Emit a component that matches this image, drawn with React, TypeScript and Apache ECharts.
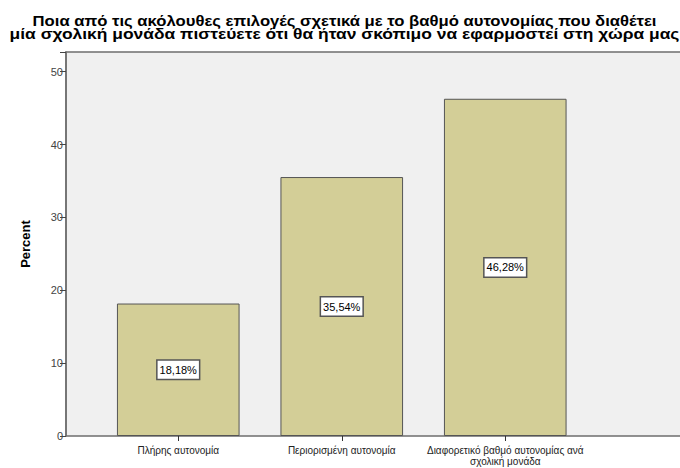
import React, { useEffect, useRef } from "react";
import * as echarts from "echarts";

const titleLines = [
  "Ποια από τις ακόλουθες επιλογές σχετικά με το βαθμό αυτονομίας που διαθέτει",
  "μία σχολική μονάδα πιστεύετε ότι θα ήταν σκόπιμο να εφαρμοστεί στη χώρα μας",
];
const categories = [
  "Πλήρης αυτονομία",
  "Περιορισμένη αυτονομία",
  "Διαφορετικό βαθμό αυτονομίας ανά σχολική μονάδα",
];
const percents = [18.18, 35.54, 46.28];
const yTicks = [0, 10, 20, 30, 40, 50];

const FONT = "'Liberation Sans', Arial, sans-serif";

export default function App() {
  const ref = useRef<HTMLDivElement>(null);
  useEffect(() => {
    if (!ref.current) return;
    const chart = echarts.init(ref.current, null, { renderer: "svg" });
    chart.setOption({
      animation: false,
      backgroundColor: "#ffffff",
      textStyle: { fontFamily: FONT },
      graphic: [
        {
          type: "rect",
          z: 0,
          silent: true,
          shape: { x: 66, y: 52, width: 640, height: 384 },
          style: { fill: "#f0f0f0", stroke: "#6e6e6e", lineWidth: 1.5 },
        },
        {
          type: "group",
          x: 344.5,
          y: 21,
          scaleX: 1.19,
          children: [
            {
              type: "text",
              style: {
                text: titleLines[0],
                x: 0,
                y: 0,
                textAlign: "center",
                textVerticalAlign: "middle",
                fontSize: 14,
                fontWeight: "bold",
                fontFamily: FONT,
                fill: "#000",
              },
            },
          ],
        },
        {
          type: "group",
          x: 344.5,
          y: 34,
          scaleX: 1.245,
          children: [
            {
              type: "text",
              style: {
                text: titleLines[1],
                x: 0,
                y: 0,
                textAlign: "center",
                textVerticalAlign: "middle",
                fontSize: 14,
                fontWeight: "bold",
                fontFamily: FONT,
                fill: "#000",
              },
            },
          ],
        },
      ],
      grid: {
        left: 96.5,
        right: 93,
        top: 52,
        bottom: 32,
        containLabel: false,
        outerBoundsMode: "none",
      },
      xAxis: {
        type: "category",
        data: categories,
        axisLine: { show: false },
        axisTick: { show: true, alignWithLabel: true, length: 5, lineStyle: { color: "#333" } },
        axisLabel: {
          interval: 0,
          fontSize: 10,
          color: "#222",
          margin: 9,
          lineHeight: 11,
          fontFamily: FONT,
          hideOverlap: false,
          formatter: (v: string) => v.replace(" σχολική", "\nσχολική"),
        },
        splitLine: { show: false },
      },
      yAxis: {
        type: "value",
        min: 0,
        max: 52.7,
        interval: 10,
        offset: 30.5,
        name: "Percent",
        nameLocation: "middle",
        nameGap: 34,
        nameTextStyle: { fontSize: 13, fontWeight: "bold", color: "#000", fontFamily: FONT },
        axisLine: { show: true, lineStyle: { color: "#6e6e6e", width: 1.5 } },
        axisTick: { show: true, length: 6, lineStyle: { color: "#444" } },
        axisLabel: {
          fontSize: 11,
          color: "#444",
          margin: 3,
          fontFamily: FONT,
          formatter: (v: number) => (yTicks.includes(v) ? String(v) : ""),
        },
        splitLine: { show: false },
      },
      series: [
        {
          type: "bar",
          data: percents,
          barWidth: "75%",
          z: 2,
          itemStyle: { color: "#d3ce97", borderColor: "#555", borderWidth: 1 },
          label: {
            show: true,
            position: "inside",
            formatter: (p: any) => p.value.toFixed(2).replace(".", ",") + "%",
            fontSize: 11,
            color: "#000",
            backgroundColor: "#fff",
            borderColor: "#555",
            borderWidth: 1.5,
            padding: [4, 2, 3, 2],
            fontFamily: FONT,
          },
        },
      ],
    });
    return () => chart.dispose();
  }, []);
  return (
    <div
      ref={ref}
      style={{ position: "fixed", left: 0, top: 0, width: 680, height: 468 }}
    />
  );
}
